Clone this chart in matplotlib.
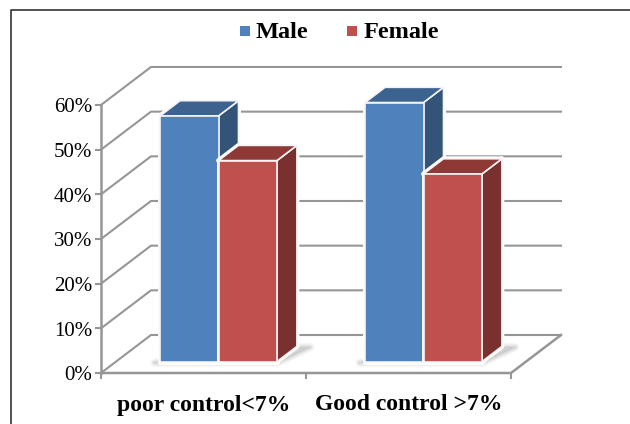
import matplotlib
matplotlib.use('Agg')
import matplotlib.pyplot as plt
from matplotlib.patches import Polygon, Rectangle

# data
categories = ['poor control<7%', 'Good control >7%']
male = [55, 58]
female = [45, 42]
yticks = [0, 10, 20, 30, 40, 50, 60]

# couleurs
grid_col = '#969696'
male_cols = ['#4F81BD', '#3C6290', '#335378']
female_cols = ['#C0504D', '#8E3936', '#7A302E']

plt.rcParams['font.family'] = ['Liberation Serif', 'DejaVu Serif']

# repere 3D : une categorie = 205 px, 10% = 44.67 px, profondeur = (50, -38)
x0, y0 = 101, 373
cat_w, unit = 205, 4.467
dx, dy = 50, -38


def pj(x, v, d=0):
    return (x0 + x * cat_w + d * dx, y0 - v * unit + d * dy)


fig = plt.figure(figsize=(6.3, 4.24), dpi=100)
ax = fig.add_axes([0, 0, 1, 1])
ax.set_xlim(0, 630)
ax.set_ylim(424, 0)
ax.axis('off')

# cadre de la figure
ax.plot([11, 11, 630], [424, 10, 10], color='#333333', lw=1.2, zorder=1)

# murs et grille
for t in yticks:
    a, b, c = pj(0, t, 0), pj(0, t, 1), pj(2, t, 1)
    ax.plot([a[0], b[0], c[0]], [a[1], b[1], c[1]], color=grid_col, lw=1.5, zorder=2,
            solid_joinstyle='miter')
    ax.plot([a[0] - 5, a[0]], [a[1], a[1]], color=grid_col, lw=1.5, zorder=2)
    ax.text(a[0] - 9, a[1] + 3, '%d%%' % t, ha='right', va='center', fontsize=15, color='black')

# axes avant
a, b = pj(0, 0), pj(0, 60)
ax.plot([a[0], b[0]], [a[1], b[1]], color=grid_col, lw=1.8, zorder=2)
a, b, c = pj(0, 0), pj(2, 0), pj(2, 0, 1)
ax.plot([a[0], b[0], c[0]], [a[1], b[1], c[1]], color=grid_col, lw=1.8, zorder=2)
for i in range(3):
    p = pj(i, 0)
    ax.plot([p[0], p[0]], [p[1], p[1] + 5], color=grid_col, lw=1.5, zorder=2)


def bar3d(x, w, val, cols, z):
    d1, d2 = 0.30, 0.70
    front = [pj(x, 0, d1), pj(x + w, 0, d1), pj(x + w, val, d1), pj(x, val, d1)]
    top = [pj(x, val, d1), pj(x + w, val, d1), pj(x + w, val, d2), pj(x, val, d2)]
    side = [pj(x + w, 0, d1), pj(x + w, 0, d2), pj(x + w, val, d2), pj(x + w, val, d1)]
    for pts in [side, top, front]:
        ax.add_patch(Polygon(pts, closed=True, facecolor='white', edgecolor='white', lw=3.5, zorder=z,
                             joinstyle='round'))
    for pts, col in zip([side, top, front], [cols[2], cols[1], cols[0]]):
        ax.add_patch(Polygon(pts, closed=True, facecolor=col, edgecolor='#F4F4F4', lw=1.2, zorder=z + 1,
                             joinstyle='round'))


# ombre au sol et barres
w = 0.285
for i in range(len(categories)):
    xc = i + 0.5
    left = xc - w
    right = xc + w
    sh = [pj(left - 0.02, 0, 0.27), pj(right + 0.01, 0, 0.27), pj(right + 0.07, 0, 0.68), pj(right, 0, 0.68),
          pj(left, 0, 0.30)]
    for lw, al in [(6, 0.10), (4, 0.18), (2, 0.25)]:
        ax.add_patch(Polygon(sh, closed=True, facecolor='#BEBEBE', edgecolor='#B0B0B0', lw=lw, alpha=al,
                             zorder=3, joinstyle='round'))
    bar3d(left, w, male[i], male_cols, 4)
    bar3d(xc, w, female[i], female_cols, 6)
    p = pj(xc, 0)
    ax.text(p[0], 405, categories[i], ha='center', va='center', fontsize=17, fontweight='bold', color='black')

# legende
ax.add_patch(Rectangle((240, 26), 10, 10, facecolor=male_cols[0], edgecolor='none'))
ax.text(256, 33, 'Male', ha='left', va='center', fontsize=17.5, fontweight='bold', color='black')
ax.add_patch(Rectangle((347, 26), 10, 10, facecolor=female_cols[0], edgecolor='none'))
ax.text(364, 33, 'Female', ha='left', va='center', fontsize=17.5, fontweight='bold', color='black')

fig.savefig('out.png', dpi=100)
